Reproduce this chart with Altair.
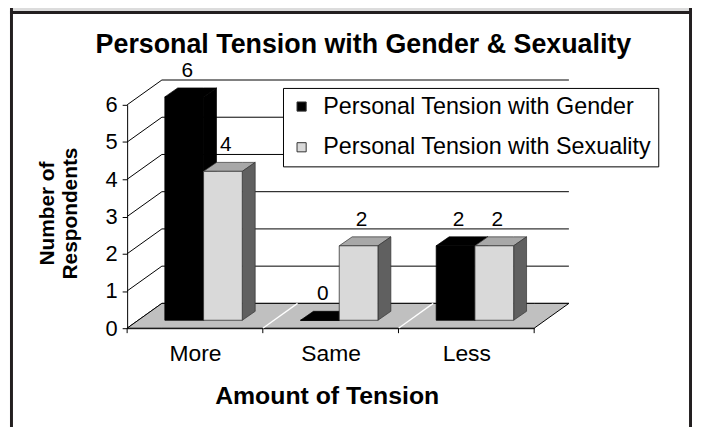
import json
import altair as alt
import pandas as pd

# ---------------- data ----------------
categories = ["More", "Same", "Less"]
series_names = ["Personal Tension with Gender", "Personal Tension with Sexuality"]
gender_values = [6, 0, 2]
sexuality_values = [4, 2, 2]
y_ticks = [0, 1, 2, 3, 4, 5, 6]

title_text = "Personal Tension with Gender & Sexuality"
x_title = "Amount of Tension"
y_title = ["Number of", "Respondents"]

# ---------------- layout / style ----------------
W, H = 410, 225
PAD = {"left": 120, "top": 96, "right": 160, "bottom": 98}
DEPTH_X, DEPTH_Y = 35, 25          # floor / back-wall depth (px)
BAR_LEFT, BAR_W = 38, 39           # bar placement inside a category band (px)
BAR_FRONT_Y = 8                    # bar front plane above floor front edge (px)
BAR_DX, BAR_DY = 13, 9             # bar depth (px)
FONT = "Liberation Sans"

NCAT = len(categories)
YMAX = max(y_ticks)
ux = W / NCAT
uy = H / YMAX


def px_x(p):
    return p / ux


def px_y(p):
    return p / uy


xs = alt.Scale(domain=[0, NCAT], nice=False, zero=False)
ys = alt.Scale(domain=[0, YMAX], nice=False, zero=False)

x_axis = alt.Axis(
    values=[c + 0.5 for c in range(NCAT)],
    labelExpr=f"{json.dumps(categories)}[floor(datum.value)]",
    ticks=False, tickSize=0, grid=False, labelOverlap=False,
    labelFontSize=23, labelBaseline="middle", labelPadding=26, labelColor="#000",
    domainColor="#000", domainWidth=1,
    title=x_title, titleFontSize=25, titleFontWeight="bold", titleColor="#000",
    titleX=201, titleY=68, titleBaseline="middle", titleAlign="center",
)
y_axis = alt.Axis(
    values=y_ticks, grid=False, tickSize=5, tickColor="#000", domainColor="#000",
    labelFontSize=22, labelPadding=5, labelColor="#000",
    title=y_title, titleFontSize=21, titleFontWeight="bold", titleColor="#000",
    titleAngle=270, titleX=-80, titleY=109, titleBaseline="middle",
    titleAlign="center", titleLineHeight=23,
)


def X(f):
    return alt.X(f, type="quantitative", scale=xs, axis=x_axis)


def Y(f):
    return alt.Y(f, type="quantitative", scale=ys, axis=y_axis)


# ---------------- geometry tables ----------------
dxw, dyw = px_x(DEPTH_X), px_y(DEPTH_Y)
back_grid = pd.DataFrame({"x": [dxw] * len(y_ticks), "x2": [NCAT + dxw] * len(y_ticks),
                          "y": [v + dyw for v in y_ticks]})
side_wall = pd.DataFrame({"x": [0] * len(y_ticks), "x2": [dxw] * len(y_ticks),
                          "y": y_ticks, "y2": [v + dyw for v in y_ticks]})
floor = pd.DataFrame({"x": [0, dxw, NCAT, NCAT + dxw],
                      "y": [0, dyw, dyw, dyw], "y2": [0, 0, 0, dyw], "shape": ["floor"] * 4})
floor_sep = pd.DataFrame({"x": list(range(1, NCAT)), "x2": [c + dxw for c in range(1, NCAT)],
                          "y": [0] * (NCAT - 1), "y2": [dyw] * (NCAT - 1)})
x_ticks = pd.DataFrame({"x": list(range(NCAT + 1)), "y": [0] * (NCAT + 1),
                        "y2": [-px_y(5)] * (NCAT + 1)})

face_colors = [("#000000", "#000000", "#000000"), ("#d9d9d9", "#a8a8a8", "#606060")]
front_rows, face_rows = [[], []], [[], []]
bx, by = px_x(BAR_DX), px_y(BAR_DY)
base = px_y(BAR_FRONT_Y)
for s, vals in enumerate([gender_values, sexuality_values]):
    front_c, top_c, side_c = face_colors[s]
    for c, v in enumerate(vals):
        xl = c + px_x(BAR_LEFT + BAR_W * s)
        xr = xl + px_x(BAR_W)
        yt = v + base
        front_rows[s].append({"series": series_names[s], "category": categories[c], "value": v,
                              "xl": xl, "xr": xr, "base": base, "yt": yt,
                              "xc": (xl + xr) / 2 + px_x(3)})
        sid = f"top-{s}-{c}"
        for px_, py_, py2_ in [(xl, yt, yt), (xl + bx, yt + by, yt), (xr, yt + by, yt),
                               (xr + bx, yt + by, yt + by)]:
            face_rows[s].append({"shape": sid, "x": px_, "y": py_, "y2": py2_, "fill": top_c})
        sid = f"side-{s}-{c}"
        for px_, py_, py2_ in [(xr, yt, base), (xr + bx, yt + by, base + by)]:
            face_rows[s].append({"shape": sid, "x": px_, "y": py_, "y2": py2_, "fill": side_c})

front_all = pd.DataFrame(front_rows[0] + front_rows[1])

color_enc = alt.Color(
    "series:N",
    scale=alt.Scale(domain=series_names, range=[face_colors[0][0], face_colors[1][0]]),
    legend=alt.Legend(
        title=None, orient="none", legendX=157, legendY=-17,
        strokeColor="#000", fillColor="#fff", padding=7, rowPadding=16,
        symbolType="square", symbolSize=85, symbolStrokeColor="#333", symbolStrokeWidth=1,
        labelFontSize=23.5, labelFont=FONT, labelColor="#000", labelOffset=10,
        labelLimit=600,
    ),
)

# ---------------- layers ----------------
one = pd.DataFrame({"t": [title_text]})
frame_color = "#231f20"


def frame_rect(x, x2, y, y2, color):
    return alt.Chart(one).mark_rect(color=color).encode(
        x=alt.value(x), x2=alt.value(x2), y=alt.value(y), y2=alt.value(y2))


frame = [
    frame_rect(-115, 566, -110, -94.5, "#dcdcdc"),
    frame_rect(-118, 569, -94.5, -91.5, frame_color),
    frame_rect(-118, -115, -110, 430, frame_color),
    frame_rect(566, 569, -110, 430, frame_color),
]

grid_layer = alt.Chart(back_grid).mark_rule(color="#000", strokeWidth=1).encode(
    x=X("x"), x2="x2", y=Y("y"))
wall_layer = alt.Chart(side_wall).mark_rule(color="#000", strokeWidth=1).encode(
    x=X("x"), x2="x2", y=Y("y"), y2="y2")
floor_layer = alt.Chart(floor).mark_area(
    orient="vertical", color="#c0c0c0", stroke="#000", strokeWidth=1).encode(
    x=X("x"), y=Y("y"), y2="y2", detail="shape:N")
sep_layer = alt.Chart(floor_sep).mark_rule(color="#ffffff", strokeWidth=1.3).encode(
    x=X("x"), x2="x2", y=Y("y"), y2="y2")
tick_layer = alt.Chart(x_ticks).mark_rule(color="#000", strokeWidth=1).encode(
    x=X("x"), y=Y("y"), y2="y2")

bar_layers = []
for s in range(2):
    faces = pd.DataFrame(face_rows[s])
    stroke = "#000" if s == 0 else "#333"
    bar_layers.append(
        alt.Chart(faces).mark_area(orient="vertical", stroke=stroke, strokeWidth=0.7).encode(
            x=X("x"), y=Y("y"), y2="y2", detail="shape:N",
            fill=alt.Fill("fill:N", scale=None)))
    bar_layers.append(
        alt.Chart(pd.DataFrame(front_rows[s])).mark_rect(stroke=stroke, strokeWidth=0.8).encode(
            x=X("xl"), x2="xr", y=Y("base"), y2="yt", color=color_enc))

labels = alt.Chart(front_all).mark_text(
    fontSize=21, baseline="middle", dy=-26, color="#000").encode(
    x=X("xc"), y=Y("yt"), text="value:Q")

title_layer = alt.Chart(one).mark_text(
    fontSize=27, fontWeight="bold", align="center", baseline="middle", color="#000").encode(
    x=alt.value(238), y=alt.value(-60), text="t:N")

chart = alt.layer(
    *frame, grid_layer, wall_layer, floor_layer, sep_layer, tick_layer,
    *bar_layers, labels, title_layer,
).properties(
    width=W, height=H,
    autosize=alt.AutoSizeParams(type="none"),
    padding=PAD,
    background="#ffffff",
).configure_view(stroke=None).configure_text(font=FONT).configure_axis(
    labelFont=FONT, titleFont=FONT).configure_legend(labelFont=FONT)

chart.save("out.html", embed_options={"renderer": "svg", "actions": False})
